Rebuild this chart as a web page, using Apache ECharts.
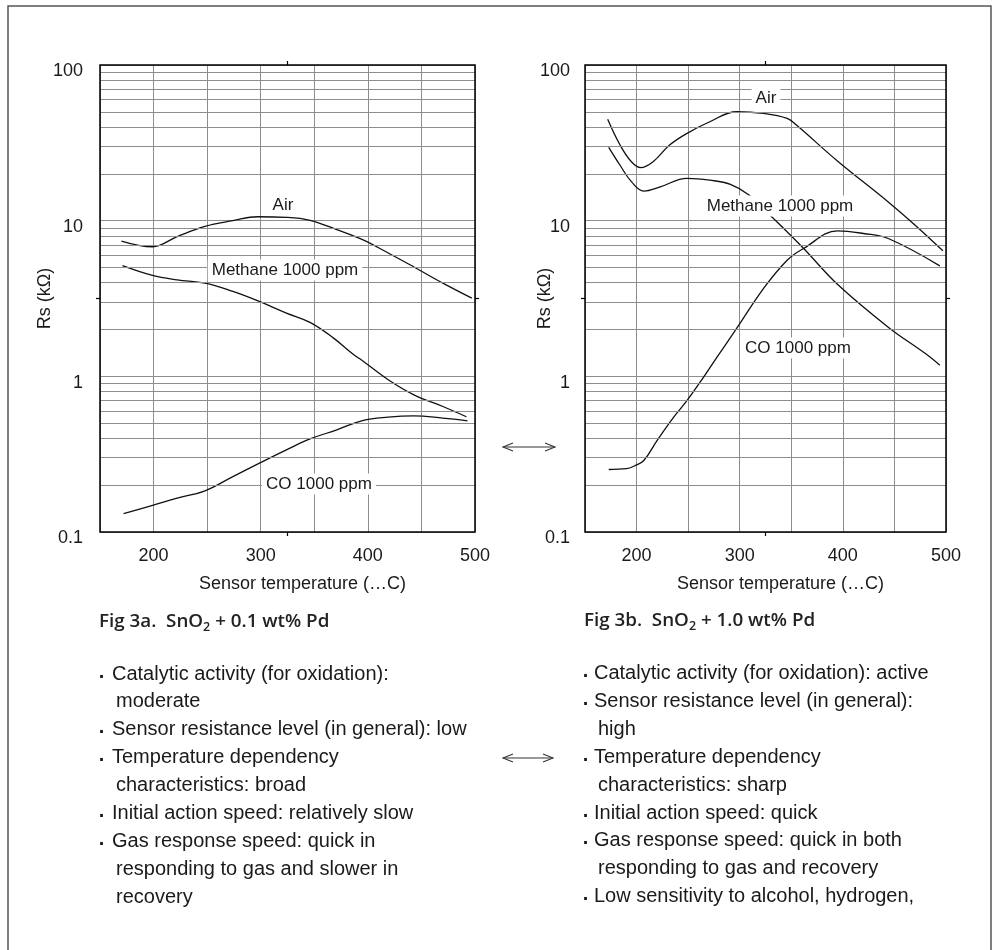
<!DOCTYPE html>
<html>
<head>
<meta charset="utf-8">
<script src="https://cdn.jsdelivr.net/npm/echarts/dist/echarts.min.js"></script>
<style>
  html, body { margin: 0; padding: 0; background: #fff; }
  #chart { width: 996px; height: 950px; }
</style>
</head>
<body>
<div id="chart"></div>
<script>
// ---- Fig 3a: SnO2 + 0.1 wt% Pd (temperature in °C, Rs in kΩ) ----
const airA_t  = [170, 199, 222, 248, 274, 297, 324, 346, 371, 395, 419, 443, 470, 497];
const airA_rs = [7.4, 6.8, 7.9, 9.2, 10.0, 10.6, 10.5, 10.05, 8.75, 7.55, 6.2, 5.04, 3.97, 3.18];
const ch4A_t  = [171, 199, 222, 248, 274, 297, 324, 346, 368, 386, 395, 419, 443, 470, 492];
const ch4A_rs = [5.14, 4.45, 4.17, 3.97, 3.51, 3.06, 2.55, 2.22, 1.76, 1.39, 1.26, 0.95, 0.76, 0.64, 0.55];
const coA_t   = [172, 199, 222, 248, 274, 297, 324, 346, 371, 395, 419, 443, 470, 493];
const coA_rs  = [0.131, 0.148, 0.165, 0.184, 0.227, 0.273, 0.337, 0.396, 0.453, 0.52, 0.547, 0.557, 0.539, 0.518];

// ---- Fig 3b: SnO2 + 1.0 wt% Pd ----
const airB_t  = [172, 184, 195, 204, 216, 232, 249, 271, 297, 323, 346, 355, 395, 444, 472, 497];
const airB_rs = [44.8, 30.6, 23.9, 21.9, 23.9, 30.6, 36.4, 43.2, 50.1, 48.9, 45.4, 41.1, 24.1, 13.2, 9.12, 6.4];
const ch4B_t  = [173, 184, 195, 207, 223, 249, 271, 291, 309, 331, 362, 395, 444, 480, 494];
const ch4B_rs = [29.6, 22.7, 17.8, 15.5, 16.5, 18.7, 18.2, 17.1, 14.6, 10.6, 6.63, 3.89, 2.07, 1.40, 1.18];
const coB_t   = [173, 190, 199, 207, 220, 236, 249, 265, 278, 297, 323, 346, 362, 395, 420, 444, 494];
const coB_rs  = [0.252, 0.255, 0.268, 0.288, 0.388, 0.547, 0.70, 0.99, 1.33, 2.03, 3.66, 5.57, 6.63, 8.6, 8.27, 7.68, 5.12];

// Axis ranges and log-paper grid
const tempMin = 150, tempMax = 500, tempStep = 50;
const tempLabels = [200, 300, 400, 500];
const rsMin = 0.1, rsMax = 100;
const decadeStarts = [0.1, 1, 10];
const decadeSteps = [2, 3, 4, 5, 6, 7, 8, 9];

// Texts
const curveNames = { air: 'Air', ch4: 'Methane 1000 ppm', co: 'CO 1000 ppm' };
const xName = 'Sensor temperature (…C)';
const yName = 'Rs (kΩ)';
const captionA = ['Fig 3a.  SnO', '2', ' + 0.1 wt% Pd'];
const captionB = ['Fig 3b.  SnO', '2', ' + 1.0 wt% Pd'];
const notesA = [
  ['Catalytic activity (for oxidation):', 'moderate'],
  ['Sensor resistance level (in general): low'],
  ['Temperature dependency', 'characteristics: broad'],
  ['Initial action speed: relatively slow'],
  ['Gas response speed: quick in', 'responding to gas and slower in', 'recovery']
];
const notesB = [
  ['Catalytic activity (for oxidation): active'],
  ['Sensor resistance level (in general):', 'high'],
  ['Temperature dependency', 'characteristics: sharp'],
  ['Initial action speed: quick'],
  ['Gas response speed: quick in both', 'responding to gas and recovery'],
  ['Low sensitivity to alcohol, hydrogen,']
];

// ---- layout ----
const FONT = '"Liberation Sans", Arial, Helvetica, sans-serif';
const CAP_FONT = '"Open Sans", "Noto Sans", sans-serif';
const INK = '#1a1a1a';
const GRIDC = '#8e8e8e';
const plotA = { left: 100, top: 65, width: 375, height: 467 };
const plotB = { left: 585, top: 65, width: 361, height: 467 };

const zip = (xs, ys) => xs.map((x, i) => [x, ys[i]]);
const minorRs = [];
decadeStarts.forEach(d => decadeSteps.forEach(s => minorRs.push(+(d * s).toPrecision(3))));

function xAxisFor(idx) {
  return {
    type: 'value', gridIndex: idx, min: tempMin, max: tempMax, interval: tempStep,
    axisLine: { show: false }, axisTick: { show: false },
    axisLabel: {
      margin: 15, fontSize: 18, color: INK, fontFamily: FONT,
      formatter: v => (tempLabels.indexOf(v) >= 0 ? String(v) : '')
    },
    splitLine: { show: true, lineStyle: { color: GRIDC, width: 1 } },
    name: xName, nameLocation: 'middle', nameGap: 43, nameMoveOverlap: false,
    nameTextStyle: { fontSize: 18, color: INK, fontFamily: FONT, padding: [0, 0, 0, 30] }
  };
}
function yAxisFor(idx, gap, lblMargin) {
  return {
    type: 'log', logBase: 10, gridIndex: idx, min: rsMin, max: rsMax,
    axisLine: { show: false }, axisTick: { show: false },
    axisLabel: { margin: lblMargin, fontSize: 18, color: INK, fontFamily: FONT,
      verticalAlign: 'top', lineHeight: 13 },
    splitLine: { show: true, lineStyle: { color: GRIDC, width: 1 } },
    name: yName, nameLocation: 'middle', nameGap: gap, nameMoveOverlap: false,
    nameTextStyle: { fontSize: 18, color: INK, fontFamily: FONT }
  };
}
function curve(idx, t, rs) {
  return {
    type: 'line', xAxisIndex: idx, yAxisIndex: idx, data: zip(t, rs),
    smooth: 0.4, showSymbol: false, silent: true, z: 3,
    lineStyle: { color: '#111', width: 1.3 }
  };
}
function minorGrid(idx) {
  return {
    type: 'line', xAxisIndex: idx, yAxisIndex: idx, data: [], z: 1, silent: true,
    markLine: {
      silent: true, symbol: ['none', 'none'], label: { show: false }, animation: false,
      lineStyle: { color: GRIDC, width: 1, type: 'solid' },
      data: minorRs.map(v => ({ yAxis: v }))
    }
  };
}

// ---- decorations: frames, centre marks, curve labels, captions, notes ----
const graphics = [];
graphics.push({ type: 'rect', z: 20, silent: true,
  shape: { x: 8, y: 6, width: 983, height: 970 },
  style: { fill: 'none', stroke: '#555', lineWidth: 1.5 } });

[plotA, plotB].forEach(p => {
  graphics.push({ type: 'rect', z: 20, silent: true,
    shape: { x: p.left, y: p.top, width: p.width, height: p.height },
    style: { fill: 'none', stroke: '#000', lineWidth: 1.5 } });
  const cx = p.left + p.width / 2, cy = p.top + p.height / 2;
  const marks = [
    [cx, p.top, cx, p.top - 4], [cx, p.top + p.height, cx, p.top + p.height + 4],
    [p.left, cy, p.left - 4, cy], [p.left + p.width, cy, p.left + p.width + 4, cy]
  ];
  marks.forEach(m => graphics.push({ type: 'line', z: 20, silent: true,
    shape: { x1: m[0], y1: m[1], x2: m[2], y2: m[3] },
    style: { stroke: '#000', lineWidth: 1.2 } }));
});

function tag(text, x, y) {
  graphics.push({ type: 'text', z: 15, silent: true, x: x, y: y,
    style: { text: text, align: 'center', verticalAlign: 'middle', fontSize: 17,
      fontFamily: FONT, fill: INK, backgroundColor: '#fff', padding: [2, 4] } });
}
tag(curveNames.air, 283, 205);
tag(curveNames.ch4, 285, 270);
tag(curveNames.co, 319, 484);
tag(curveNames.air, 766, 98);
tag(curveNames.ch4, 780, 206);
tag(curveNames.co, 798, 348);

function arrow(x1, x2, y) {
  const st = { stroke: '#333', lineWidth: 1.1, fill: 'none' };
  graphics.push({ type: 'line', z: 20, silent: true, shape: { x1: x1, y1: y, x2: x2, y2: y }, style: st });
  graphics.push({ type: 'polyline', z: 20, silent: true,
    shape: { points: [[x1 + 10, y - 4], [x1, y], [x1 + 10, y + 4]] }, style: st });
  graphics.push({ type: 'polyline', z: 20, silent: true,
    shape: { points: [[x2 - 10, y - 4], [x2, y], [x2 - 10, y + 4]] }, style: st });
}
arrow(503, 555, 447);
arrow(503, 553, 758);

function caption(parts, x, y) {
  graphics.push({ type: 'text', z: 15, silent: true, x: x, y: y,
    style: {
      text: '{b|' + parts[0] + '}{s|' + parts[1] + '}{b|' + parts[2] + '}',
      verticalAlign: 'middle', fill: INK,
      rich: {
        b: { fontSize: 18.8, fontWeight: 600, fontFamily: CAP_FONT, fill: '#222', lineHeight: 24 },
        s: { fontSize: 12.5, fontWeight: 600, fontFamily: CAP_FONT, fill: '#222', lineHeight: 12, verticalAlign: 'bottom' }
      }
    } });
}
caption(captionA, 99, 622);
caption(captionB, 584, 621);

function notes(list, bulletX, textX, contX, y0, step) {
  let y = y0;
  list.forEach(item => {
    item.forEach((line, i) => {
      if (i === 0) {
        graphics.push({ type: 'text', z: 15, silent: true, x: bulletX, y: y + 3,
          style: { text: '·', align: 'center', verticalAlign: 'middle', fontSize: 20,
            fontWeight: 'bold', fontFamily: FONT, fill: INK } });
      }
      graphics.push({ type: 'text', z: 15, silent: true, x: i === 0 ? textX : contX, y: y,
        style: { text: line, verticalAlign: 'middle', fontSize: 20, fontFamily: FONT, fill: INK } });
      y += step;
    });
  });
}
notes(notesA, 102, 112, 116, 674, 27.9);
notes(notesB, 586, 594, 598, 673.5, 27.9);

const chart = echarts.init(document.getElementById('chart'), null, { renderer: 'canvas' });
chart.setOption({
  backgroundColor: '#fff',
  animation: false,
  grid: [
    Object.assign({ containLabel: false }, plotA),
    Object.assign({ containLabel: false }, plotB)
  ],
  xAxis: [xAxisFor(0), xAxisFor(1)],
  yAxis: [yAxisFor(0, 46, 17), yAxisFor(1, 31, 15)],
  series: [
    minorGrid(0), minorGrid(1),
    curve(0, airA_t, airA_rs), curve(0, ch4A_t, ch4A_rs), curve(0, coA_t, coA_rs),
    curve(1, airB_t, airB_rs), curve(1, ch4B_t, ch4B_rs), curve(1, coB_t, coB_rs)
  ],
  graphic: graphics
});
</script>
</body>
</html>
